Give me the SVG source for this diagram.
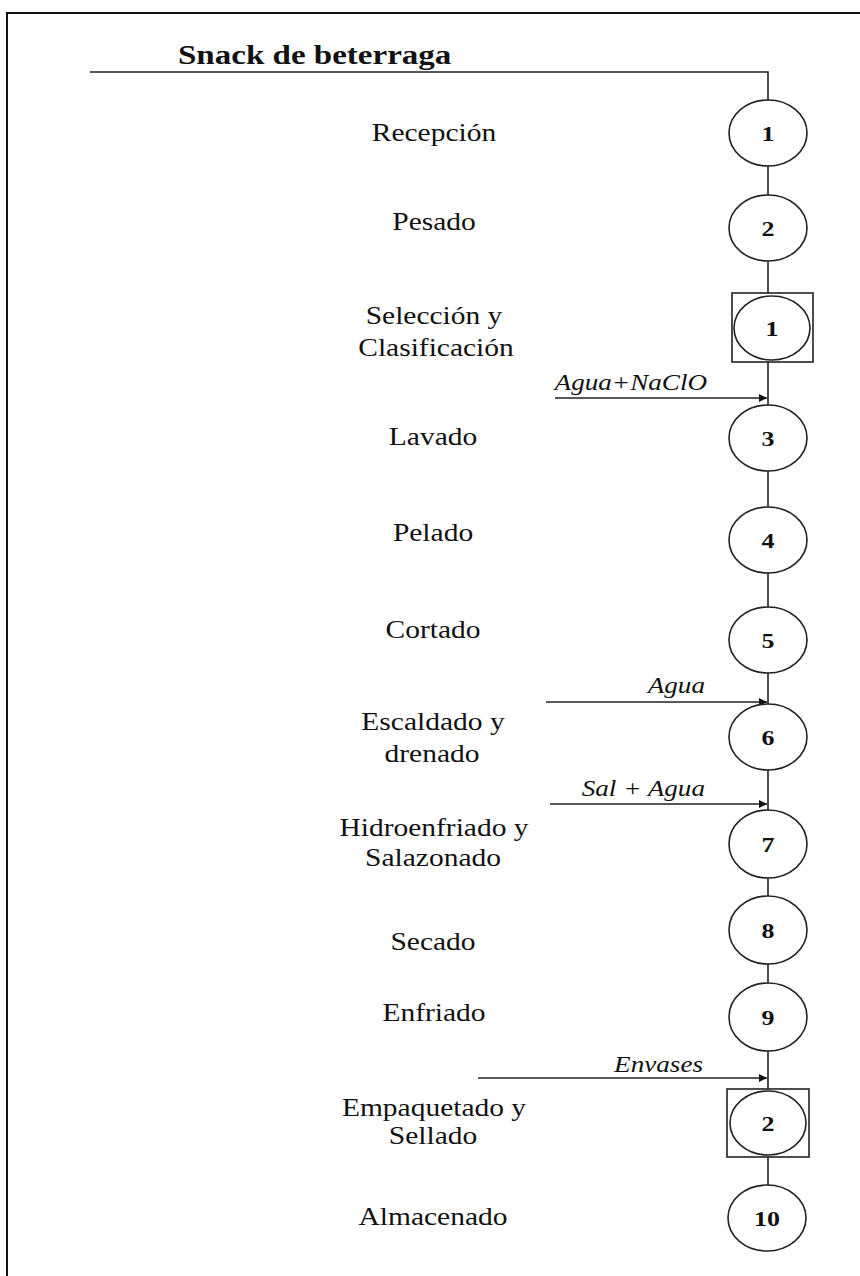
<svg xmlns="http://www.w3.org/2000/svg" width="860" height="1276" viewBox="0 0 860 1276">
  <defs>
    <marker id="arrow" viewBox="0 0 10 10" refX="10" refY="5" markerWidth="10" markerHeight="8" markerUnits="userSpaceOnUse" orient="auto">
      <path d="M0,0 L10,5 L0,10 z" fill="#111"/>
    </marker>
    <style>
      .frame { fill: none; stroke: #111; stroke-width: 2; }
      .line { fill: none; stroke: #222; stroke-width: 1.6; }
      .flow { fill: none; stroke: #222; stroke-width: 1.6; marker-end: url(#arrow); }
      .op { fill: #fff; stroke: #222; stroke-width: 1.6; }
      .box { fill: #fff; stroke: #222; stroke-width: 1.6; }
      .num { font-family: "Liberation Serif", "Times New Roman", serif; font-size: 22px; font-weight: bold; fill: #111; text-anchor: middle; }
      .lbl { font-family: "Liberation Serif", "Times New Roman", serif; font-size: 25px; fill: #111; text-anchor: middle; }
      .inp { font-family: "Liberation Serif", "Times New Roman", serif; font-size: 23px; font-style: italic; fill: #111; text-anchor: end; }
      .title { font-family: "Liberation Serif", "Times New Roman", serif; font-size: 28px; font-weight: bold; fill: #111; }
    </style>
  </defs>

  <rect width="860" height="1276" fill="#fff"/>
  <!-- outer frame (top and left edges) -->
  <path class="frame" d="M7,1276 V13 H860"/>

  <!-- title -->
  <text class="title" transform="translate(178 64) scale(1.18 1)">Snack de beterraga</text>

  <!-- connectors -->
  <g id="connectors">
    <path class="line" d="M90,72 H768 V1185"/>
    <line class="flow" x1="555" y1="398" x2="767" y2="398"/>
    <line class="flow" x1="546" y1="702" x2="767" y2="702"/>
    <line class="flow" x1="550" y1="804" x2="767" y2="804"/>
    <line class="flow" x1="478" y1="1078" x2="767" y2="1078"/>
  </g>

  <!-- input labels -->
  <g id="inputs">
    <text class="inp" transform="translate(707 390) scale(1.18 1)">Agua+NaClO</text>
    <text class="inp" transform="translate(705 693) scale(1.18 1)">Agua</text>
    <text class="inp" transform="translate(705 796) scale(1.18 1)">Sal + Agua</text>
    <text class="inp" transform="translate(703 1072) scale(1.18 1)">Envases</text>
  </g>

  <!-- process steps -->
  <g id="op1">
    <ellipse class="op" cx="768" cy="133" rx="39" ry="33"/>
    <text class="num" transform="translate(768 141) scale(1.18 1)">1</text>
    <text class="lbl" transform="translate(434 141) scale(1.18 1)">Recepción</text>
  </g>
  <g id="op2">
    <ellipse class="op" cx="768" cy="228" rx="39" ry="33"/>
    <text class="num" transform="translate(768 236) scale(1.18 1)">2</text>
    <text class="lbl" transform="translate(434 230) scale(1.18 1)">Pesado</text>
  </g>
  <g id="insp1">
    <rect class="box" x="732" y="293" width="81" height="69"/>
    <ellipse class="op" cx="772" cy="328" rx="38" ry="32"/>
    <text class="num" transform="translate(772 336) scale(1.18 1)">1</text>
    <text class="lbl" transform="translate(434 324) scale(1.18 1)">Selección y</text>
    <text class="lbl" transform="translate(436 356) scale(1.18 1)">Clasificación</text>
  </g>
  <g id="op3">
    <ellipse class="op" cx="768" cy="438" rx="39" ry="33"/>
    <text class="num" transform="translate(768 446) scale(1.18 1)">3</text>
    <text class="lbl" transform="translate(433 445) scale(1.18 1)">Lavado</text>
  </g>
  <g id="op4">
    <ellipse class="op" cx="768" cy="540" rx="39" ry="33"/>
    <text class="num" transform="translate(768 548) scale(1.18 1)">4</text>
    <text class="lbl" transform="translate(433 541) scale(1.18 1)">Pelado</text>
  </g>
  <g id="op5">
    <ellipse class="op" cx="768" cy="640" rx="39" ry="33"/>
    <text class="num" transform="translate(768 648) scale(1.18 1)">5</text>
    <text class="lbl" transform="translate(433 638) scale(1.18 1)">Cortado</text>
  </g>
  <g id="op6">
    <ellipse class="op" cx="768" cy="737" rx="39" ry="33"/>
    <text class="num" transform="translate(768 745) scale(1.18 1)">6</text>
    <text class="lbl" transform="translate(433 730) scale(1.18 1)">Escaldado y</text>
    <text class="lbl" transform="translate(432 762) scale(1.18 1)">drenado</text>
  </g>
  <g id="op7">
    <ellipse class="op" cx="768" cy="844" rx="39" ry="34"/>
    <text class="num" transform="translate(768 852) scale(1.18 1)">7</text>
    <text class="lbl" transform="translate(434 836) scale(1.18 1)">Hidroenfriado y</text>
    <text class="lbl" transform="translate(433 866) scale(1.18 1)">Salazonado</text>
  </g>
  <g id="op8">
    <ellipse class="op" cx="768" cy="930" rx="39" ry="34"/>
    <text class="num" transform="translate(768 938) scale(1.18 1)">8</text>
    <text class="lbl" transform="translate(433 950) scale(1.18 1)">Secado</text>
  </g>
  <g id="op9">
    <ellipse class="op" cx="768" cy="1017" rx="39" ry="34"/>
    <text class="num" transform="translate(768 1025) scale(1.18 1)">9</text>
    <text class="lbl" transform="translate(434 1021) scale(1.18 1)">Enfriado</text>
  </g>
  <g id="insp2">
    <rect class="box" x="727" y="1089" width="82" height="68"/>
    <ellipse class="op" cx="768" cy="1123" rx="38" ry="32"/>
    <text class="num" transform="translate(768 1131) scale(1.18 1)">2</text>
    <text class="lbl" transform="translate(434 1116) scale(1.18 1)">Empaquetado y</text>
    <text class="lbl" transform="translate(433 1144) scale(1.18 1)">Sellado</text>
  </g>
  <g id="op10">
    <ellipse class="op" cx="767" cy="1218" rx="39" ry="33"/>
    <text class="num" transform="translate(767 1226) scale(1.18 1)">10</text>
    <text class="lbl" transform="translate(433 1225) scale(1.18 1)">Almacenado</text>
  </g>
</svg>
